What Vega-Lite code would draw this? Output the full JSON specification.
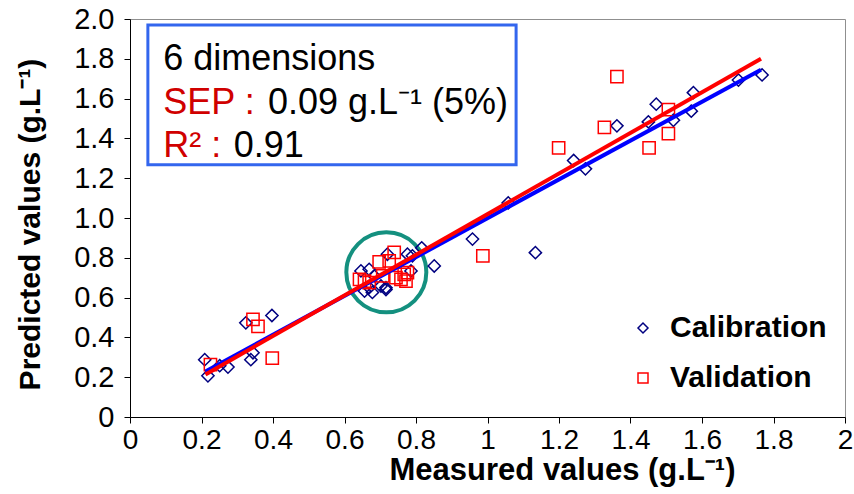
{
  "$schema": "https://vega.github.io/schema/vega-lite/v6.json",
  "width": 715,
  "height": 398,
  "autosize": {"type": "none"},
  "padding": {"left": 130, "top": 19, "right": 9, "bottom": 77},
  "background": "white",
  "config": {
    "view": {"stroke": "#8f8f8f", "strokeWidth": 1},
    "font": "Liberation Sans, Arial, sans-serif",
    "axis": {"grid": false, "domainColor": "#000000", "tickColor": "#000000", "labelColor": "#000000", "titleColor": "#000000", "domainWidth": 1, "tickWidth": 1}
  },
  "datasets": {
    "points": [
      {"x": 0.209, "y": 0.288, "set": "Calibration"},
      {"x": 0.218, "y": 0.207, "set": "Calibration"},
      {"x": 0.251, "y": 0.258, "set": "Calibration"},
      {"x": 0.274, "y": 0.251, "set": "Calibration"},
      {"x": 0.324, "y": 0.473, "set": "Calibration"},
      {"x": 0.397, "y": 0.51, "set": "Calibration"},
      {"x": 0.344, "y": 0.323, "set": "Calibration"},
      {"x": 0.338, "y": 0.288, "set": "Calibration"},
      {"x": 0.669, "y": 0.742, "set": "Calibration"},
      {"x": 0.646, "y": 0.734, "set": "Calibration"},
      {"x": 0.72, "y": 0.818, "set": "Calibration"},
      {"x": 0.776, "y": 0.818, "set": "Calibration"},
      {"x": 0.79, "y": 0.81, "set": "Calibration"},
      {"x": 0.702, "y": 0.658, "set": "Calibration"},
      {"x": 0.716, "y": 0.641, "set": "Calibration"},
      {"x": 0.669, "y": 0.65, "set": "Calibration"},
      {"x": 0.786, "y": 0.734, "set": "Calibration"},
      {"x": 0.683, "y": 0.709, "set": "Calibration"},
      {"x": 0.816, "y": 0.85, "set": "Calibration"},
      {"x": 0.851, "y": 0.759, "set": "Calibration"},
      {"x": 0.656, "y": 0.633, "set": "Calibration"},
      {"x": 0.678, "y": 0.626, "set": "Calibration"},
      {"x": 0.716, "y": 0.65, "set": "Calibration"},
      {"x": 1.058, "y": 1.076, "set": "Calibration"},
      {"x": 0.958, "y": 0.894, "set": "Calibration"},
      {"x": 1.134, "y": 0.826, "set": "Calibration"},
      {"x": 1.362, "y": 1.463, "set": "Calibration"},
      {"x": 1.472, "y": 1.572, "set": "Calibration"},
      {"x": 1.45, "y": 1.483, "set": "Calibration"},
      {"x": 1.52, "y": 1.491, "set": "Calibration"},
      {"x": 1.576, "y": 1.63, "set": "Calibration"},
      {"x": 1.57, "y": 1.537, "set": "Calibration"},
      {"x": 1.241, "y": 1.289, "set": "Calibration"},
      {"x": 1.274, "y": 1.247, "set": "Calibration"},
      {"x": 1.702, "y": 1.693, "set": "Calibration"},
      {"x": 1.768, "y": 1.719, "set": "Calibration"},
      {"x": 0.225, "y": 0.263, "set": "Validation"},
      {"x": 0.344, "y": 0.49, "set": "Validation"},
      {"x": 0.358, "y": 0.456, "set": "Validation"},
      {"x": 0.398, "y": 0.296, "set": "Validation"},
      {"x": 0.739, "y": 0.827, "set": "Validation"},
      {"x": 0.697, "y": 0.779, "set": "Validation"},
      {"x": 0.725, "y": 0.784, "set": "Validation"},
      {"x": 0.656, "y": 0.683, "set": "Validation"},
      {"x": 0.642, "y": 0.692, "set": "Validation"},
      {"x": 0.669, "y": 0.675, "set": "Validation"},
      {"x": 0.744, "y": 0.7, "set": "Validation"},
      {"x": 0.767, "y": 0.717, "set": "Validation"},
      {"x": 0.772, "y": 0.683, "set": "Validation"},
      {"x": 0.758, "y": 0.692, "set": "Validation"},
      {"x": 0.707, "y": 0.709, "set": "Validation"},
      {"x": 0.776, "y": 0.725, "set": "Validation"},
      {"x": 0.987, "y": 0.81, "set": "Validation"},
      {"x": 1.362, "y": 1.71, "set": "Validation"},
      {"x": 1.327, "y": 1.455, "set": "Validation"},
      {"x": 1.506, "y": 1.545, "set": "Validation"},
      {"x": 1.506, "y": 1.424, "set": "Validation"},
      {"x": 1.452, "y": 1.352, "set": "Validation"},
      {"x": 1.199, "y": 1.352, "set": "Validation"}
    ],
    "fitCal": [{"x": 0.211, "y": 0.229}, {"x": 1.765, "y": 1.745}],
    "fitVal": [{"x": 0.211, "y": 0.214}, {"x": 1.765, "y": 1.8}],
    "ring": [{"x": 0.717, "y": 0.727}],
    "box": [{"x": 0.05, "xe": 1.08, "y": 1.268, "ye": 1.97}],
    "notesBlack": [
      {"x": 0.093, "y": 1.8, "text": "6 dimensions"},
      {"x": 0.386, "y": 1.58, "text": "0.09 g.L⁻¹ (5%)"},
      {"x": 0.29, "y": 1.36, "text": "0.91"}
    ],
    "notesRed": [
      {"x": 0.093, "y": 1.58, "text": "SEP :"},
      {"x": 0.093, "y": 1.36, "text": "R² :"}
    ]
  },
  "encoding": {
    "x": {
      "field": "x", "type": "quantitative",
      "scale": {"domain": [0, 2], "nice": false, "zero": false},
      "axis": {
        "values": [0, 0.2, 0.4, 0.6, 0.8, 1, 1.2, 1.4, 1.6, 1.8, 2],
        "labelExpr": "format(datum.value, '~g')",
        "labelFlush": false, "labelOverlap": false, "labelBound": false,
        "tickSize": 6, "labelPadding": 3, "labelFontSize": 28,
        "title": "Measured values (g.L⁻¹)", "titleFontSize": 31, "titleFontWeight": "bold",
        "titleX": 432, "titleY": 53, "titleBaseline": "middle", "titleAlign": "center"
      }
    },
    "y": {
      "field": "y", "type": "quantitative",
      "scale": {"domain": [0, 2], "nice": false, "zero": false},
      "axis": {
        "values": [0, 0.2, 0.4, 0.6, 0.8, 1, 1.2, 1.4, 1.6, 1.8, 2],
        "labelExpr": "datum.value == 0 ? '0' : format(datum.value, '.1f')",
        "labelFlush": false, "labelOverlap": false, "labelBound": false,
        "tickSize": 6, "labelPadding": 10, "labelFontSize": 29,
        "title": "Predicted values (g.L⁻¹)", "titleFontSize": 30, "titleFontWeight": "bold",
        "titleX": -100, "titleY": 205, "titleAngle": -90, "titleBaseline": "middle", "titleAlign": "center"
      }
    }
  },
  "layer": [
    {
      "data": {"name": "ring"},
      "mark": {"type": "point", "shape": "circle", "size": 6400, "filled": false, "stroke": "#14907F", "strokeWidth": 4, "opacity": 1}
    },
    {
      "data": {"name": "points"},
      "mark": {"type": "point", "filled": false, "size": 150, "strokeWidth": 1.5, "opacity": 1},
      "encoding": {
        "color": {
          "field": "set", "type": "nominal",
          "scale": {"domain": ["Calibration", "Validation"], "range": ["#000080", "#FF0000"]},
          "legend": {
            "title": null, "orient": "none", "legendX": 498, "legendY": 294, "padding": 0,
            "labelFontSize": 30, "labelFontWeight": "bold", "labelColor": "#000000",
            "symbolSize": 100, "symbolStrokeWidth": 1.5, "rowPadding": 20, "labelOffset": 12
          }
        },
        "shape": {
          "field": "set", "type": "nominal",
          "scale": {"domain": ["Calibration", "Validation"], "range": ["diamond", "square"]},
          "legend": {
            "title": null, "orient": "none", "legendX": 498, "legendY": 294, "padding": 0,
            "labelFontSize": 30, "labelFontWeight": "bold", "labelColor": "#000000",
            "symbolSize": 100, "symbolStrokeWidth": 1.5, "rowPadding": 20, "labelOffset": 12
          }
        }
      }
    },
    {
      "data": {"name": "fitCal"},
      "mark": {"type": "line", "color": "#0000FF", "strokeWidth": 4},
      "encoding": {}
    },
    {
      "data": {"name": "fitVal"},
      "mark": {"type": "line", "color": "#FF0000", "strokeWidth": 4},
      "encoding": {}
    },
    {
      "data": {"name": "box"},
      "mark": {"type": "rect", "fill": "white", "stroke": "#3366EE", "strokeWidth": 3},
      "encoding": {
        "x2": {"field": "xe"},
        "y2": {"field": "ye"}
      }
    },
    {
      "data": {"name": "notesBlack"},
      "mark": {"type": "text", "align": "left", "baseline": "middle", "fontSize": 36, "color": "#000000"},
      "encoding": {"text": {"field": "text"}}
    },
    {
      "data": {"name": "notesRed"},
      "mark": {"type": "text", "align": "left", "baseline": "middle", "fontSize": 36, "color": "#D00000"},
      "encoding": {"text": {"field": "text"}}
    }
  ]
}
